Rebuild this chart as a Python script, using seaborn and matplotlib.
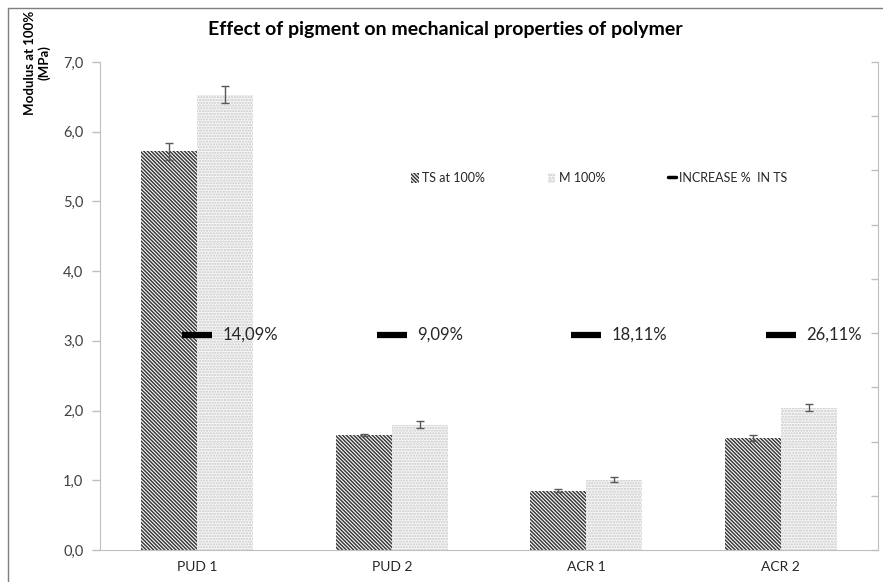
import numpy as np
import pandas as pd
import matplotlib
matplotlib.use('Agg')
import matplotlib.pyplot as plt
from matplotlib.patches import Patch
from matplotlib.lines import Line2D
import seaborn as sns

# Data
samples = ['PUD 1', 'PUD 2', 'ACR 1', 'ACR 2']
ts_100 = [5.72, 1.65, 0.85, 1.61]
ts_err = [0.12, 0.02, 0.02, 0.04]
m_100 = [6.53, 1.80, 1.01, 2.04]
m_err = [0.12, 0.05, 0.03, 0.05]
increase_labels = ['14,09%', '9,09%', '18,11%', '26,11%']
increase_level = [3.09, 3.09, 3.09, 3.09]

series_names = ['TS at 100%', 'M 100%']
yticks = [0, 1, 2, 3, 4, 5, 6, 7]

df = pd.DataFrame({
    'sample': samples * 2,
    'series': [series_names[0]] * 4 + [series_names[1]] * 4,
    'value': ts_100 + m_100,
    'err': ts_err + m_err,
})

sns.set_style('white')
plt.rcParams['font.family'] = ['Lato', 'DejaVu Sans']
plt.rcParams['hatch.linewidth'] = 1.1

fig = plt.figure(figsize=(8.83, 5.82), dpi=100)
ax = fig.add_axes([100 / 883, 32 / 582, 778 / 883, 488 / 582])

sns.barplot(data=df, x='sample', y='value', hue='series', order=samples,
            hue_order=series_names, errorbar=None, width=0.576, ax=ax,
            legend=False, linewidth=0)

ts_hatch = '\\' * 9
m_hatch = '.' * 6
styles = {
    series_names[0]: dict(face='white', hatch_color='#3a3a3a', hatch=ts_hatch),
    series_names[1]: dict(face='#f8f8f8', hatch_color='#c8c8c8', hatch=m_hatch),
}
# seaborn draws bars series by series, in hue order
bars = ax.patches
for i, bar in enumerate(bars[:8]):
    st = styles[series_names[i // 4]]
    bar.set_facecolor(st['face'])
    bar.set_edgecolor(st['hatch_color'])
    bar.set_hatch(st['hatch'])
    bar.set_linewidth(0)

# error bars from the bar geometry
for i, bar in enumerate(bars[:8]):
    cx = bar.get_x() + bar.get_width() / 2
    ax.errorbar(cx, df['value'][i], yerr=df['err'][i], fmt='none',
                ecolor='#595959', elinewidth=1, capsize=3, capthick=1, zorder=5)

# INCREASE % IN TS markers and labels
xs = np.arange(len(samples))
ax.plot(xs, increase_level, linestyle='none', marker='_', markersize=22,
        markeredgewidth=4.5, color='black', zorder=6)
for x, y, lab in zip(xs, increase_level, increase_labels):
    ax.text(x + 0.13, y, lab, ha='left', va='center', fontsize=12, color='#262626')

ax.set_xlim(-0.5, 3.5)
ax.set_ylim(0, 7)
ax.set_yticks(yticks)
ax.set_yticklabels([f'{v:.1f}'.replace('.', ',') for v in yticks], fontsize=10.5, color='#404040')
ax.set_xticks(xs)
ax.set_xticklabels(samples, fontsize=10, color='#262626')
ax.set_xticks(np.arange(-0.5, 4.0, 1.0), minor=True)
ax.tick_params(axis='x', which='major', length=0, pad=8)
ax.tick_params(axis='x', which='minor', length=5, color='#bfbfbf', width=1)
ax.tick_params(axis='y', length=6, color='#bfbfbf', width=1, pad=6, left=True)
ax.set_xlabel('')
ax.set_ylabel('')

for side in ['left', 'bottom']:
    ax.spines[side].set_color('#bfbfbf')
ax.spines['top'].set_visible(False)
ax.spines['right'].set_visible(False)

# secondary axis on the right, ticks only
ax2 = ax.twinx()
ax2.set_ylim(0, 9)
ax2.set_yticks(range(10))
ax2.set_yticklabels([])
ax2.tick_params(axis='y', length=5, color='#bfbfbf', width=1, right=True, direction='in')
for side in ['left', 'top', 'bottom']:
    ax2.spines[side].set_visible(False)
ax2.spines['right'].set_color('#bfbfbf')

# legend
handles = [
    Patch(facecolor='white', edgecolor='#3a3a3a', hatch=ts_hatch, linewidth=0, label=series_names[0]),
    Patch(facecolor='#f8f8f8', edgecolor='#c8c8c8', hatch=m_hatch, linewidth=0, label=series_names[1]),
    Line2D([0], [0], color='black', linewidth=2.5, label='INCREASE %  IN TS'),
]
ax.legend(handles=handles, loc='center left', bbox_to_anchor=(300 / 778, (550 - 178) / 488),
          ncol=3, frameon=False, fontsize=9, handlelength=0.6, handleheight=0.9,
          handletextpad=0.3, columnspacing=5.0, labelcolor='#262626')

fig.text(445 / 883, 1 - 30 / 582, 'Effect of pigment on mechanical properties of polymer',
         ha='center', va='center', fontsize=14, fontweight='bold', color='black')
fig.text(37 / 883, 1 - 63 / 582, 'Modulus at 100%\n(MPa)', rotation=90, ha='center',
         va='center', multialignment='center', fontsize=9.5, fontweight='bold', color='black')

# chart area border
fig.add_artist(Line2D([8 / 883, 1], [1 - 8 / 582, 1 - 8 / 582], color='#7f7f7f', linewidth=1))
fig.add_artist(Line2D([8 / 883, 8 / 883], [0, 1 - 8 / 582], color='#7f7f7f', linewidth=1))

fig.savefig('out.png', dpi=100)
